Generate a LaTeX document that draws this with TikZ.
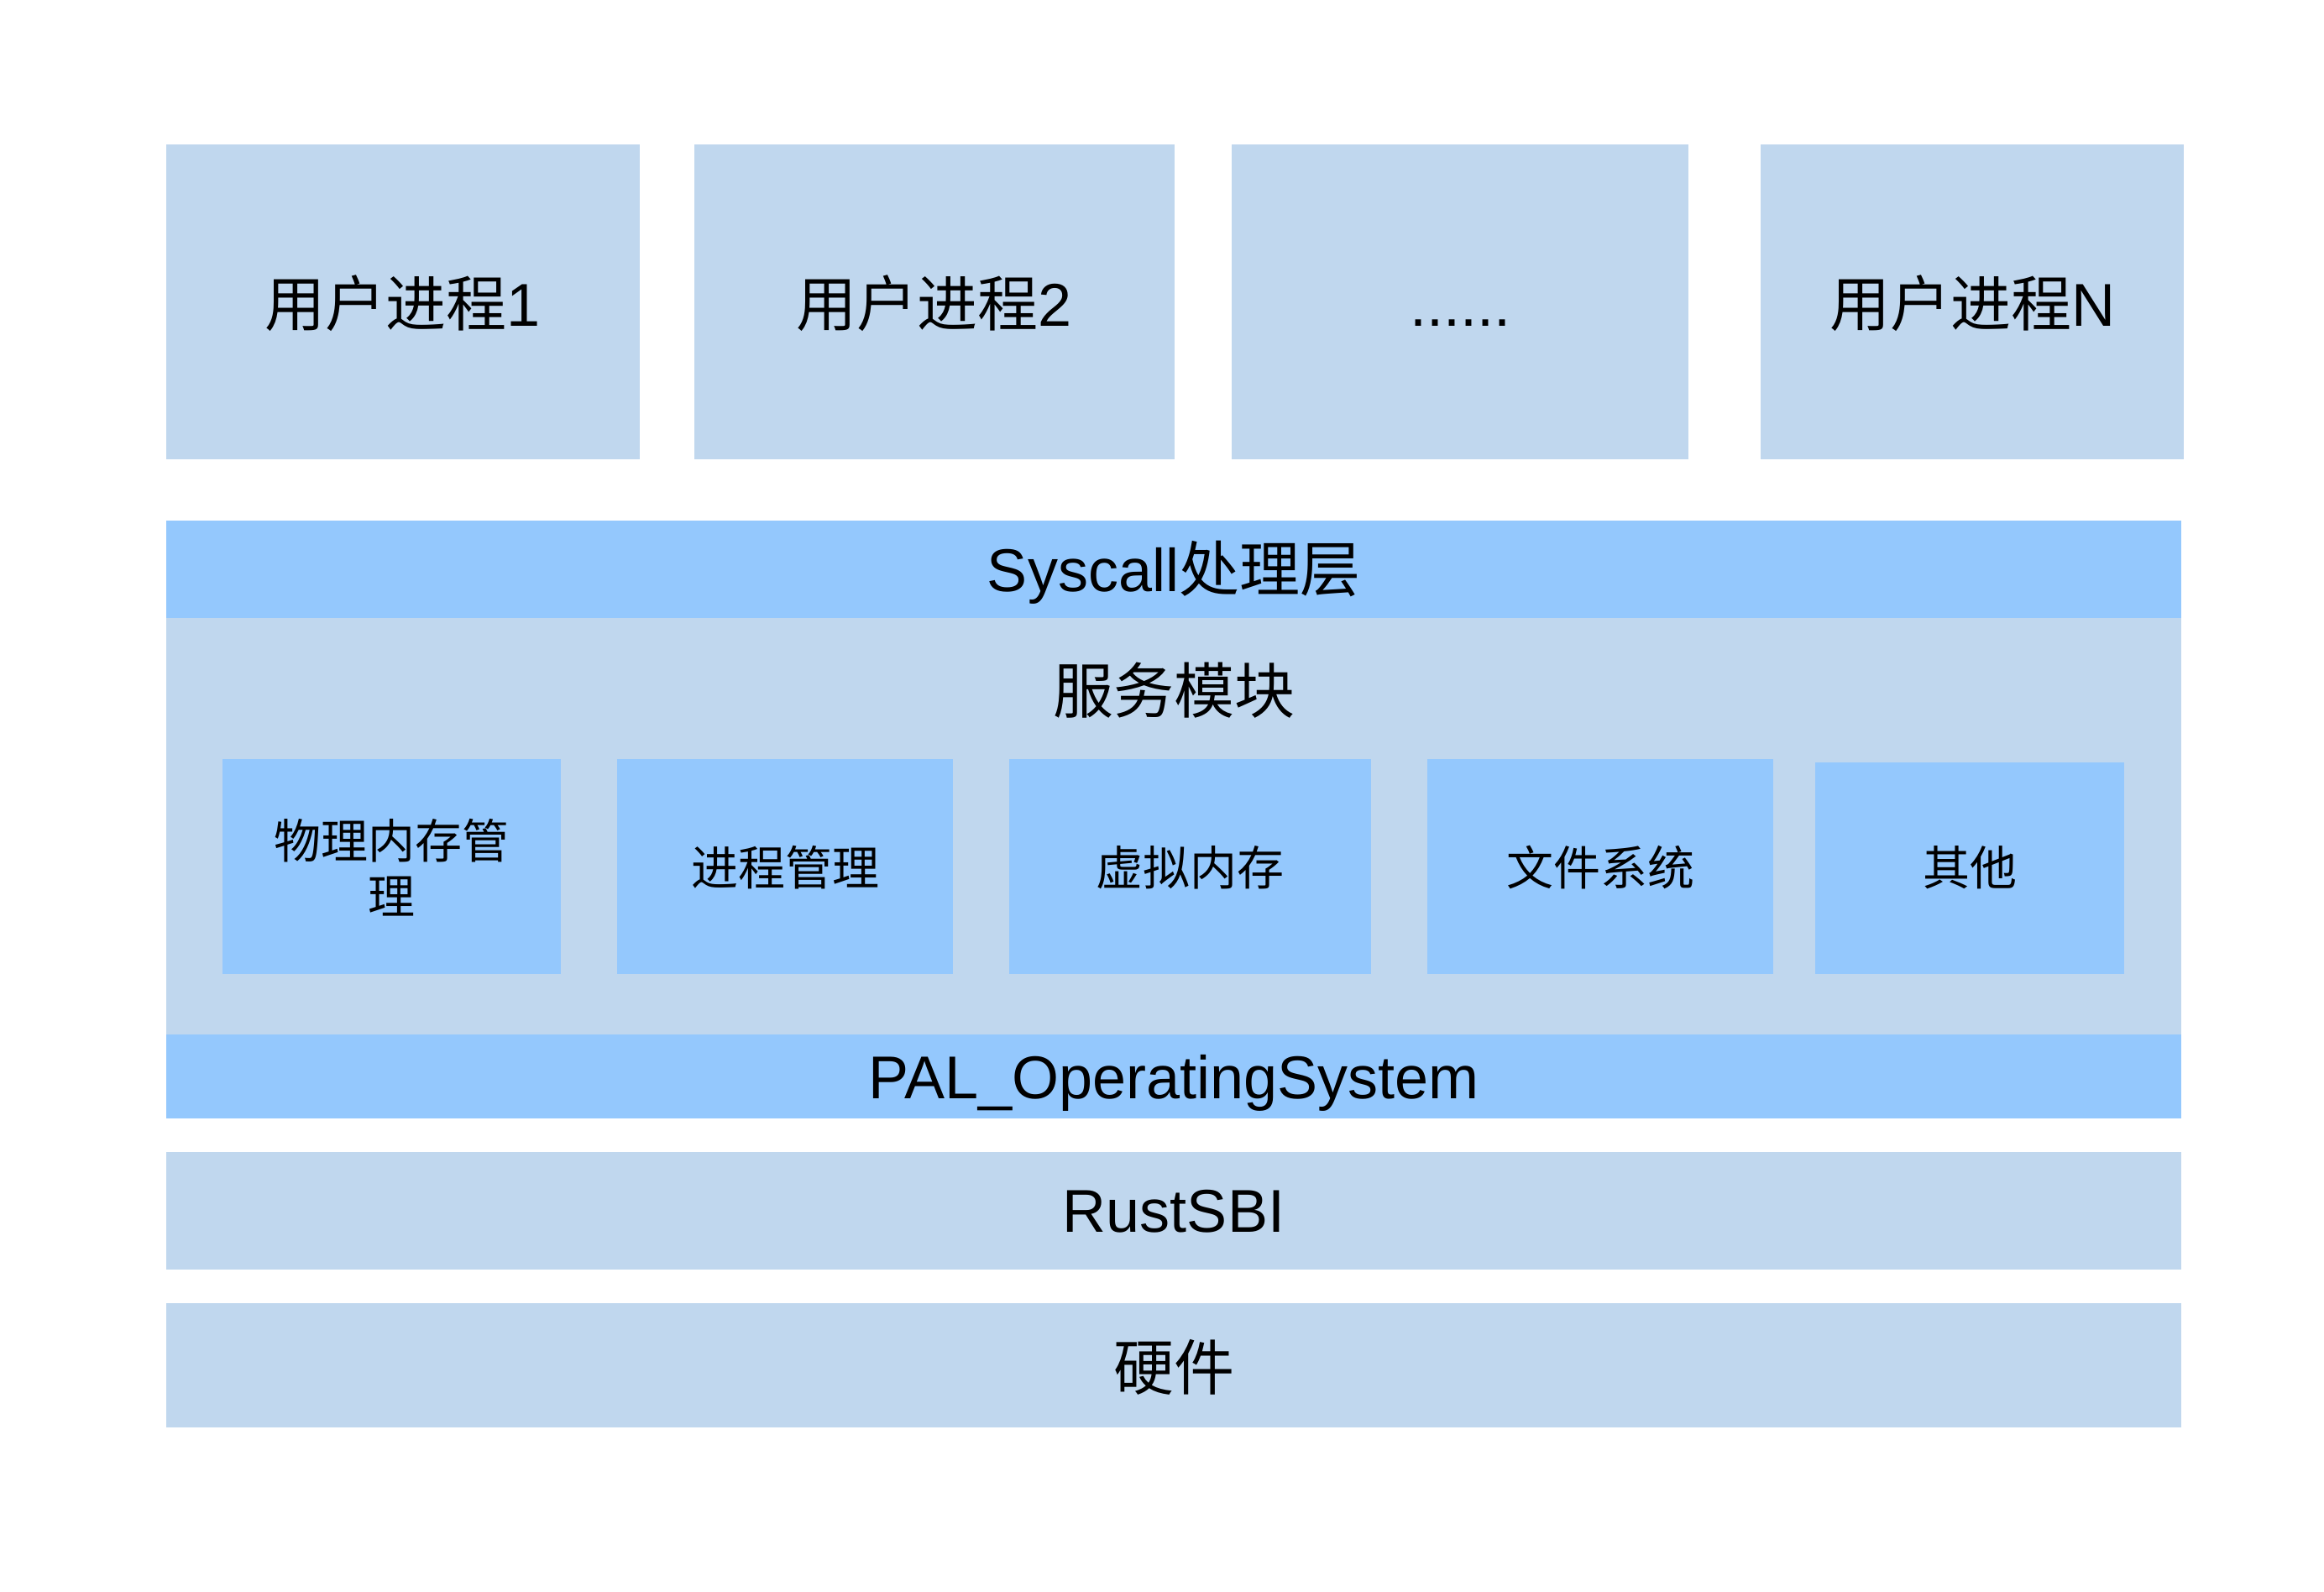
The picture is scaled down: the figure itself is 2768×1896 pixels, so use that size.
\documentclass[tikz,border=0pt]{standalone}
\usepackage{fontspec}
\setmainfont{Liberation Sans}
\newfontfamily\cjk{Noto Sans CJK SC}
\usetikzlibrary{fit}
\definecolor{lightblue}{HTML}{C0D7EE}
\definecolor{midblue}{HTML}{94C8FD}
\tikzset{
  lightbox/.style={fill=lightblue, draw=none, inner sep=0pt},
  midbox/.style={fill=midblue, draw=none, inner sep=0pt},
  biglbl/.style={inner sep=0pt, anchor=base, font=\fontsize{25.92}{31}\selectfont},
  smalllbl/.style={inner sep=0pt, anchor=base, font=\fontsize{20.16}{23.76}\selectfont},
}
\begin{document}
\begin{tikzpicture}[x=0.36pt, y=-0.36pt]
\useasboundingbox (0,0) rectangle (2768,1896);
\fill[white] (0,0) rectangle (2768,1896);

% user processes
\node[lightbox, fit={(198,172)(762,547)}] (up1) {};
\node[lightbox, fit={(827,172)(1399,547)}] (up2) {};
\node[lightbox, fit={(1467,172)(2011,547)}] (up3) {};
\node[lightbox, fit={(2097,172)(2601,547)}] (upn) {};
\node[biglbl] (up1t) at (480,388) {{\cjk 用户进程}1};
\node[biglbl] (up2t) at (1113,388) {{\cjk 用户进程}2};
\node[biglbl] (up3t) at (1739,388) {......};
\node[biglbl] (upnt) at (2349,388) {{\cjk 用户进程}N};

% service block
\node[lightbox, fit={(198,736)(2598,1232)}] (svc) {};
\node[midbox, fit={(198,620)(2598,736)}] (sys) {};
\node[biglbl] (syst) at (1398,704) {Syscall{\cjk 处理层}};
\node[biglbl] (svct) at (1398,849) {\cjk 服务模块};

% modules
\node[midbox, fit={(265,904)(668,1160)}] (m1) {};
\node[midbox, fit={(735,904)(1135,1160)}] (m2) {};
\node[midbox, fit={(1202,904)(1633,1160)}] (m3) {};
\node[midbox, fit={(1700,904)(2112,1160)}] (m4) {};
\node[midbox, fit={(2162,908)(2530,1160)}] (m5) {};
\node[smalllbl, anchor=center, align=center] (m1t) at (466.5,1033) {\cjk 物理内存管\\\cjk 理};
\node[smalllbl] (m2t) at (935,1054) {\cjk 进程管理};
\node[smalllbl] (m3t) at (1417.5,1054) {\cjk 虚拟内存};
\node[smalllbl] (m4t) at (1906,1054) {\cjk 文件系统};
\node[smalllbl] (m5t) at (2346,1054) {\cjk 其他};

% PAL
\node[midbox, fit={(198,1232)(2598,1332)}] (pal) {};
\node[biglbl] (palt) at (1398,1308) {PAL\_OperatingSystem};

% RustSBI
\node[lightbox, fit={(198,1372)(2598,1512)}] (sbi) {};
\node[biglbl] (sbit) at (1398,1467) {RustSBI};

% hardware
\node[lightbox, fit={(198,1552)(2598,1700)}] (hw) {};
\node[biglbl] (hwt) at (1398,1655) {\cjk 硬件};
\end{tikzpicture}
\end{document}
